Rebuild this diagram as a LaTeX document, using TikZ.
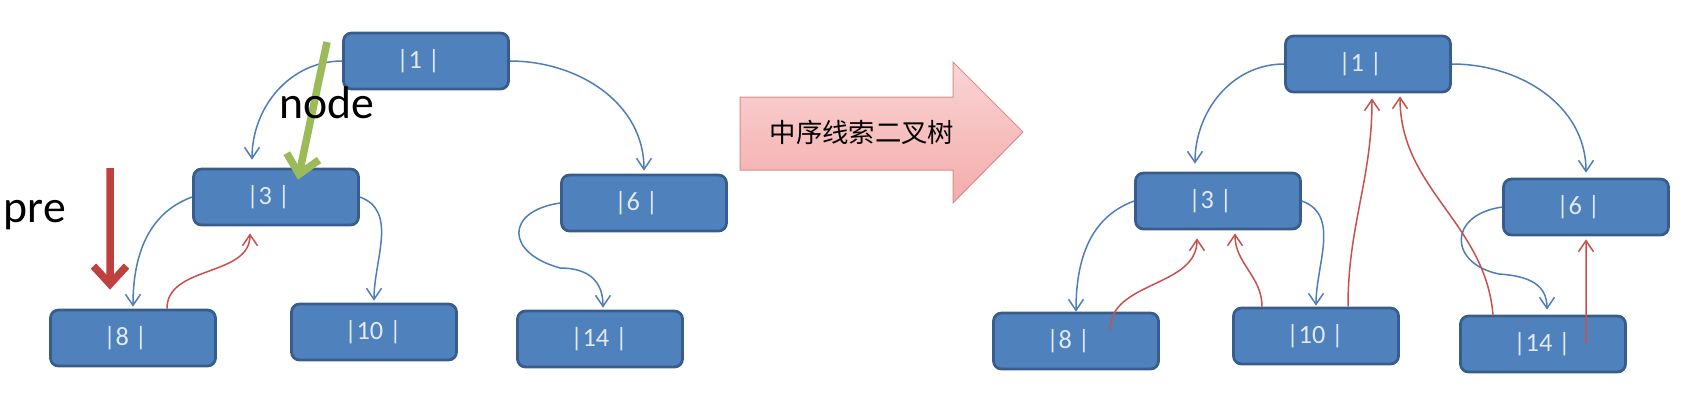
\documentclass[tikz,border=0pt]{standalone}
\usepackage{fontspec}
\setmainfont{Carlito}
\newfontfamily\cjk{Noto Sans CJK SC}
\usetikzlibrary{arrows.meta}

\definecolor{BoxBlue}{RGB}{79,129,189}
\definecolor{BoxLine}{RGB}{56,93,138}
\definecolor{BoxText}{RGB}{225,233,245}
\definecolor{EdgeBlue}{RGB}{79,125,185}
\definecolor{ThreadRed}{RGB}{200,80,77}
\definecolor{PreRed}{RGB}{192,64,62}
\definecolor{NodeGreen}{RGB}{155,187,89}
\definecolor{PinkTop}{RGB}{250,212,212}
\definecolor{PinkBottom}{RGB}{244,172,172}
\definecolor{PinkLine}{RGB}{215,140,140}

\newcommand\boxlabel[1]{\makebox[11.8mm][l]{#1}}

\begin{document}
\begin{tikzpicture}[x=0.2mm,y=-0.2mm,
  box/.style={rectangle,rounded corners=1.6mm,draw=BoxLine,line width=0.55mm,fill=BoxBlue,
    minimum width=33mm,minimum height=11.2mm,inner sep=0pt,text=BoxText,
    font=\fontsize{15}{17}\selectfont},
  edge/.style={EdgeBlue,line width=0.3mm,-{Straight Barb[length=2.2mm,width=3mm]}},
  thread/.style={ThreadRed,line width=0.3mm,-{Straight Barb[length=2.2mm,width=3mm]}},
  pointer/.style={line width=1.5mm,-{Straight Barb[length=3.6mm,width=6.6mm]}}]
\useasboundingbox (0,0) rectangle (1706,410);

\node[box] (L1) at (426,61) {\boxlabel{|1 |}};
\node[box] (L3) at (276,197) {\boxlabel{|3 |}};
\node[box] (L6) at (644,203) {\boxlabel{|6 |}};
\node[box] (L8) at (133,338) {\boxlabel{|8 |}};
\node[box] (L10) at (374,332) {\boxlabel{|10 |}};
\node[box] (L14) at (600,339) {\boxlabel{|14 |}};

\draw[edge] (L1.west) to[out=180,in=90] ([xshift=-4.8mm,yshift=1.6mm]L3.north);
\draw[edge] (L1.east) to[out=0,in=90] ([yshift=0.6mm]L6.north);
\draw[edge] (L3.west) to[out=200,in=90] ([yshift=0.4mm]L8.north);
\draw[edge] (L3.east) to[out=-20,in=90] ([yshift=0.4mm]L10.north);
\draw[edge] (L6.west) .. controls +(-55,8) and +(-55,-15) .. ++(0,65)
  .. controls +(30,0) and +(0,-25) .. ([xshift=0.6mm,yshift=0.4mm]L14.north);
\draw[thread] ([xshift=6.8mm]L8.north) to[out=90,in=-90] ([xshift=-5.2mm,yshift=-1.4mm]L3.south);

\coordinate (preTop) at (110,168);
\coordinate (nodeTop) at (327,42);
\draw[pointer,PreRed] (preTop) -- ([xshift=-4.6mm,yshift=3.8mm]L8.north);
\draw[pointer,NodeGreen] (nodeTop) -- ([xshift=4.4mm,yshift=-2.4mm]L3.north);
\node[anchor=base,font=\fontsize{26}{30}\selectfont] (preText) at (35,222) {pre};
\node[anchor=base,font=\fontsize{26}{30}\selectfont] (nodeText) at (327,118) {node};

\shadedraw[top color=PinkTop,bottom color=PinkBottom,draw=PinkLine,line width=0.2mm]
  (740,97) -- (953,97) -- (953,62) -- (1023,132) -- (953,203) -- (953,170) -- (740,170) -- cycle;
\node[font=\cjk\fontsize{15}{17}\selectfont] (title) at (862,132) {中序线索二叉树};

\node[box] (R1) at (1368,64) {\boxlabel{|1 |}};
\node[box] (R3) at (1218,201) {\boxlabel{|3 |}};
\node[box] (R6) at (1586,207) {\boxlabel{|6 |}};
\node[box] (R8) at (1076,341) {\boxlabel{|8 |}};
\node[box] (R10) at (1316,336) {\boxlabel{|10 |}};
\node[box] (R14) at (1543,344) {\boxlabel{|14 |}};

\draw[edge] (R1.west) to[out=180,in=90] ([xshift=-4.6mm,yshift=1.6mm]R3.north);
\draw[edge] (R1.east) to[out=0,in=90] ([yshift=1mm]R6.north);
\draw[edge] (R3.west) to[out=200,in=90] (R8.north);
\draw[edge] (R3.east) to[out=-20,in=90] ([yshift=0.2mm]R10.north);
\draw[edge] (R6.west) .. controls +(-55,8) and +(-50,-10) .. ++(-3,67)
  .. controls +(30,2) and +(0,-25) .. ([xshift=0.8mm,yshift=1mm]R14.north);

\draw[thread] ([xshift=6.8mm,yshift=2.2mm]R8.center) to[out=90,in=-90] ([xshift=-4.2mm,yshift=-1.6mm]R3.south);
\draw[thread] ([xshift=-10.8mm]R10.north) to[out=90,in=-90] ([xshift=3.4mm,yshift=-0.6mm]R3.south);
\draw[thread] ([xshift=6.4mm]R10.north) to[out=90,in=-90] ([xshift=0.8mm,yshift=-1mm]R1.south);
\draw[thread] ([xshift=-10mm]R14.north) to[out=95,in=-90] ([xshift=6.4mm,yshift=-0.6mm]R1.south);
\draw[thread] ([xshift=8.6mm]R14.center) -- ([yshift=-0.6mm]R6.south);

\end{tikzpicture}
\end{document}
